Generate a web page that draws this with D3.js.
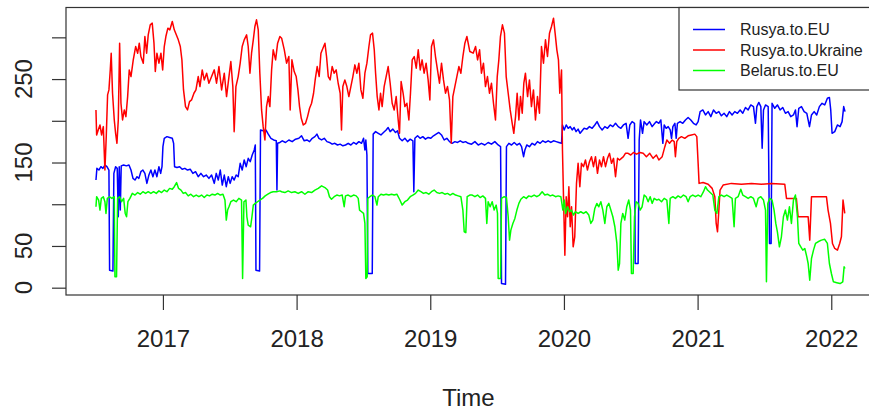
<!DOCTYPE html>
<html>
<head>
<meta charset="utf-8">
<script src="https://cdn.jsdelivr.net/npm/d3@7"></script>
<style>
  body { margin: 0; background: #fff; }
  svg { display: block; font-family: "Liberation Sans", Arial, sans-serif; }
</style>
</head>
<body>
<div class="chart"></div>
<script>
(function() {
  'use strict';

  // series: [decimal year, value]
  var seriesNames = ["Rusya.to.EU", "Rusya.to.Ukraine", "Belarus.to.EU"];

  var ruEu = [[2016.499,129],[2016.506,143],[2016.521,141],[2016.536,145],[2016.551,143],[2016.566,147],[2016.581,145],[2016.596,141],[2016.601,21],[2016.626,20],[2016.633,137],[2016.646,145],[2016.658,143],[2016.666,85],[2016.673,145],[2016.681,93],[2016.688,146],[2016.706,147],[2016.726,146],[2016.746,147],[2016.761,141],[2016.776,131],[2016.791,129],[2016.806,133],[2016.820,131],[2016.835,139],[2016.850,141],[2016.865,137],[2016.880,125],[2016.895,135],[2016.910,141],[2016.925,133],[2016.940,141],[2016.955,133],[2016.970,145],[2016.983,137],[2016.993,145],[2017.000,169],[2017.010,179],[2017.030,181],[2017.050,180],[2017.070,179],[2017.080,173],[2017.087,145],[2017.105,144],[2017.125,145],[2017.144,142],[2017.164,143],[2017.184,141],[2017.204,142],[2017.224,137],[2017.244,139],[2017.264,133],[2017.284,137],[2017.304,133],[2017.324,135],[2017.344,131],[2017.364,135],[2017.384,125],[2017.399,137],[2017.414,129],[2017.429,141],[2017.444,123],[2017.459,135],[2017.474,121],[2017.489,133],[2017.503,125],[2017.518,133],[2017.533,129],[2017.548,135],[2017.563,133],[2017.578,149],[2017.593,141],[2017.608,153],[2017.623,145],[2017.638,155],[2017.653,151],[2017.668,159],[2017.683,165],[2017.691,171],[2017.696,21],[2017.723,20],[2017.730,189],[2017.750,188],[2017.770,189],[2017.788,184],[2017.808,179],[2017.828,177],[2017.848,176],[2017.853,117],[2017.858,173],[2017.875,174],
    [2017.893,176],[2017.917,174],[2017.942,177],[2017.967,175],[2017.992,178],[2018.017,179],[2018.037,182],[2018.057,176],[2018.077,177],[2018.097,175],[2018.117,179],[2018.137,181],[2018.152,184],[2018.167,179],[2018.187,177],[2018.207,179],[2018.227,175],[2018.246,174],[2018.266,172],[2018.286,173],[2018.306,171],[2018.326,172],[2018.346,170],[2018.366,171],[2018.386,173],[2018.406,171],[2018.426,174],[2018.446,172],[2018.466,175],[2018.486,173],[2018.501,179],[2018.511,165],[2018.518,177],[2018.526,159],[2018.533,17],[2018.566,17],[2018.573,184],[2018.591,187],[2018.611,185],[2018.631,183],[2018.650,186],[2018.670,189],[2018.685,192],[2018.700,187],[2018.720,190],[2018.740,186],[2018.755,188],[2018.770,179],[2018.790,176],[2018.810,179],[2018.830,175],[2018.850,178],[2018.870,176],[2018.877,115],[2018.885,179],[2018.905,182],[2018.924,179],[2018.944,181],[2018.964,178],[2018.984,180],[2019.004,179],[2019.024,182],[2019.044,184],[2019.064,186],[2019.084,183],[2019.104,177],[2019.124,179],[2019.144,175],[2019.164,173],[2019.184,175],[2019.204,174],[2019.224,176],[2019.244,174],[2019.264,175],[2019.284,173],
    [2019.309,172],[2019.334,175],[2019.359,171],[2019.383,173],[2019.408,171],[2019.433,174],[2019.458,172],[2019.483,175],[2019.508,171],[2019.526,169],[2019.533,5],[2019.563,4],[2019.570,169],[2019.588,173],[2019.608,171],[2019.628,174],[2019.648,171],[2019.668,173],[2019.683,169],[2019.698,157],[2019.708,165],[2019.722,171],[2019.742,169],[2019.762,173],[2019.782,171],[2019.802,175],[2019.822,173],[2019.842,176],[2019.862,174],[2019.882,176],[2019.902,174],[2019.922,176],[2019.942,175],[2019.962,174],[2019.982,173],[2019.989,195],[2020.002,189],[2020.017,195],[2020.032,191],[2020.047,193],[2020.062,189],[2020.076,192],[2020.091,187],[2020.106,190],[2020.121,185],[2020.136,188],[2020.151,191],[2020.171,190],[2020.191,193],[2020.211,191],[2020.231,195],[2020.248,199],[2020.266,193],[2020.286,189],[2020.306,193],[2020.326,191],[2020.346,195],[2020.366,193],[2020.386,197],[2020.406,193],[2020.426,191],[2020.445,195],[2020.465,197],[2020.480,179],[2020.493,195],[2020.510,199],[2020.528,197],[2020.533,29],[2020.555,29],[2020.563,177],[2020.573,201],[2020.588,185],[2020.600,199],[2020.620,195],[2020.640,199],[2020.660,193],[2020.680,197],
    [2020.692,199],[2020.710,197],[2020.725,201],[2020.740,173],[2020.750,195],[2020.765,191],[2020.780,193],[2020.795,189],[2020.805,179],[2020.815,193],[2020.830,197],[2020.840,179],[2020.849,197],[2020.869,199],[2020.889,197],[2020.909,201],[2020.929,204],[2020.949,201],[2020.969,197],[2020.989,195],[2021.004,199],[2021.019,211],[2021.039,213],[2021.059,207],[2021.079,211],[2021.099,205],[2021.119,213],[2021.139,209],[2021.159,211],[2021.178,206],[2021.198,209],[2021.218,205],[2021.238,211],[2021.258,207],[2021.278,211],[2021.298,209],[2021.318,213],[2021.338,209],[2021.358,216],[2021.378,213],[2021.398,219],[2021.418,217],[2021.433,197],[2021.443,217],[2021.458,222],[2021.473,217],[2021.483,167],[2021.493,213],[2021.508,219],[2021.528,217],[2021.538,53],[2021.550,53],[2021.557,221],[2021.577,215],[2021.597,219],[2021.617,213],[2021.637,216],[2021.657,209],[2021.677,211],[2021.697,205],[2021.717,207],[2021.732,213],[2021.744,193],[2021.757,215],[2021.777,217],[2021.797,211],[2021.817,209],[2021.837,193],[2021.852,207],[2021.872,211],[2021.891,207],[2021.911,217],[2021.931,221],[2021.951,219],[2021.971,227],[2021.986,228],[2021.996,213],[2022.006,185],[2022.026,187],[2022.046,195],[2022.066,193],[2022.081,199],[2022.093,217],[2022.103,211]];

  var ruUa = [[2016.499,213],[2016.504,183],[2016.516,189],[2016.529,195],[2016.541,183],[2016.554,193],[2016.566,141],[2016.576,181],[2016.586,231],[2016.596,237],[2016.606,261],[2016.613,281],[2016.623,233],[2016.636,201],[2016.646,185],[2016.656,173],[2016.666,201],[2016.676,293],[2016.686,221],[2016.698,201],[2016.711,213],[2016.723,205],[2016.736,229],[2016.748,261],[2016.761,253],[2016.778,273],[2016.796,289],[2016.811,281],[2016.823,293],[2016.835,277],[2016.853,269],[2016.865,301],[2016.878,281],[2016.890,303],[2016.905,315],[2016.920,317],[2016.933,293],[2016.943,259],[2016.955,281],[2016.970,269],[2016.985,281],[2016.998,261],[2017.010,289],[2017.022,301],[2017.037,311],[2017.052,309],[2017.070,319],[2017.085,309],[2017.100,303],[2017.115,297],[2017.130,289],[2017.142,273],[2017.154,237],[2017.169,217],[2017.184,213],[2017.199,223],[2017.214,225],[2017.232,233],[2017.247,237],[2017.264,253],[2017.277,241],[2017.294,261],[2017.309,249],[2017.327,257],[2017.344,245],[2017.364,253],[2017.384,261],[2017.401,245],[2017.419,265],[2017.439,237],[2017.459,257],[2017.476,229],[2017.494,253],[2017.508,271],[2017.523,241],[2017.533,187],[2017.546,241],[2017.563,253],[2017.578,269],[2017.593,289],[2017.608,297],[2017.626,303],[2017.638,289],[2017.651,257],[2017.663,281],[2017.676,297],[2017.688,313],[2017.700,321],[2017.713,309],[2017.725,257],[2017.738,213],[2017.750,193],[2017.763,177],[2017.775,217],[2017.788,229],[2017.800,217],[2017.813,261],[2017.825,285],[2017.843,273],[2017.858,293],[2017.875,301],
    [2017.888,299],[2017.908,285],[2017.925,269],[2017.942,277],[2017.952,213],[2017.965,273],[2017.982,259],[2017.997,253],[2018.010,237],[2018.022,217],[2018.035,203],[2018.050,195],[2018.067,197],[2018.082,205],[2018.097,215],[2018.112,221],[2018.127,233],[2018.139,249],[2018.154,265],[2018.169,253],[2018.182,281],[2018.197,287],[2018.212,293],[2018.224,277],[2018.237,253],[2018.251,249],[2018.266,265],[2018.281,257],[2018.296,261],[2018.311,245],[2018.326,233],[2018.336,189],[2018.346,241],[2018.361,249],[2018.376,241],[2018.391,229],[2018.406,241],[2018.421,253],[2018.436,267],[2018.451,257],[2018.466,269],[2018.481,237],[2018.496,227],[2018.511,257],[2018.526,269],[2018.541,289],[2018.553,303],[2018.568,305],[2018.581,285],[2018.591,257],[2018.603,229],[2018.616,213],[2018.628,233],[2018.640,217],[2018.655,241],[2018.670,253],[2018.685,265],[2018.700,245],[2018.715,221],[2018.730,213],[2018.745,229],[2018.760,201],[2018.770,185],[2018.782,247],[2018.797,233],[2018.810,217],[2018.825,221],[2018.840,201],[2018.852,233],[2018.865,273],[2018.880,277],[2018.895,263],[2018.910,285],[2018.925,261],[2018.939,273],[2018.954,257],[2018.969,269],[2018.984,249],[2018.997,225],[2019.009,289],[2019.024,297],[2019.039,277],[2019.054,261],[2019.069,245],[2019.084,269],[2019.099,249],[2019.114,233],[2019.129,241],[2019.144,225],[2019.157,173],[2019.169,229],[2019.184,241],[2019.199,253],[2019.214,265],[2019.229,257],[2019.244,277],[2019.259,293],[2019.274,301],
    [2019.296,283],[2019.321,281],[2019.339,289],[2019.354,273],[2019.369,285],[2019.383,257],[2019.398,269],[2019.413,241],[2019.428,253],[2019.443,233],[2019.458,245],[2019.473,221],[2019.488,201],[2019.501,253],[2019.513,273],[2019.525,301],[2019.540,315],[2019.555,305],[2019.568,253],[2019.583,233],[2019.598,213],[2019.613,197],[2019.625,185],[2019.638,205],[2019.650,233],[2019.663,201],[2019.675,229],[2019.688,209],[2019.700,245],[2019.712,257],[2019.728,229],[2019.742,249],[2019.757,217],[2019.772,237],[2019.787,201],[2019.802,229],[2019.817,209],[2019.832,289],[2019.847,269],[2019.862,297],[2019.877,277],[2019.892,305],[2019.907,313],[2019.922,323],[2019.934,305],[2019.947,285],[2019.959,273],[2019.969,233],[2019.982,261],[2019.989,165],[2019.999,93],[2020.007,39],[2020.017,109],[2020.027,85],[2020.037,121],[2020.047,73],[2020.057,97],[2020.069,49],[2020.081,61],[2020.094,125],[2020.106,149],[2020.119,121],[2020.131,149],[2020.146,145],[2020.161,153],[2020.176,141],[2020.191,151],[2020.206,157],[2020.221,145],[2020.236,157],[2020.251,137],[2020.266,153],[2020.281,145],[2020.296,157],[2020.311,145],[2020.326,155],[2020.341,161],[2020.356,149],[2020.371,155],[2020.386,133],[2020.401,155],[2020.416,153],[2020.430,155],[2020.445,157],[2020.460,161],[2020.480,161],[2020.500,159],[2020.520,162],[2020.543,160],[2020.568,162],[2020.593,161],[2020.617,157],[2020.642,161],[2020.667,155],[2020.692,159],
    [2020.710,153],[2020.735,157],[2020.755,169],[2020.770,177],[2020.790,173],[2020.810,177],[2020.825,175],[2020.834,157],[2020.844,175],[2020.859,179],[2020.879,181],[2020.904,179],[2020.929,182],[2020.954,183],[2020.979,184],[2020.994,181],[2021.004,149],[2021.011,125],[2021.041,126],[2021.079,124],[2021.109,119],[2021.129,109],[2021.139,77],[2021.149,67],[2021.159,93],[2021.168,117],[2021.191,123],[2021.253,125],[2021.328,124],[2021.403,125],[2021.478,124],[2021.552,125],[2021.652,124],[2021.665,107],[2021.702,107],[2021.739,107],[2021.752,85],[2021.789,85],[2021.827,85],[2021.839,57],[2021.852,109],[2021.901,109],[2021.964,109],[2021.976,93],[2021.994,77],[2022.009,53],[2022.026,47],[2022.046,45],[2022.063,53],[2022.076,61],[2022.088,105],[2022.101,89]];

  var byEu = [[2016.499,97],[2016.504,109],[2016.519,105],[2016.529,93],[2016.539,107],[2016.554,109],[2016.566,103],[2016.574,89],[2016.584,107],[2016.601,109],[2016.618,107],[2016.636,109],[2016.641,13],[2016.653,13],[2016.661,107],[2016.676,109],[2016.691,103],[2016.706,107],[2016.718,89],[2016.728,85],[2016.738,103],[2016.753,107],[2016.771,113],[2016.791,111],[2016.811,114],[2016.830,112],[2016.850,115],[2016.870,113],[2016.890,115],[2016.910,113],[2016.930,115],[2016.950,113],[2016.970,116],[2016.990,114],[2017.010,117],[2017.030,115],[2017.050,119],[2017.070,118],[2017.085,121],[2017.102,126],[2017.117,119],[2017.135,117],[2017.152,113],[2017.169,114],[2017.189,110],[2017.209,112],[2017.229,109],[2017.249,111],[2017.269,109],[2017.289,111],[2017.309,108],[2017.329,111],[2017.349,110],[2017.369,112],[2017.389,111],[2017.409,113],[2017.429,111],[2017.449,112],[2017.464,105],[2017.474,81],[2017.484,93],[2017.494,97],[2017.508,103],[2017.528,105],[2017.548,103],[2017.568,107],[2017.588,105],[2017.596,11],[2017.606,103],[2017.621,105],[2017.628,85],[2017.638,75],[2017.656,73],[2017.666,85],[2017.676,99],[2017.691,101],[2017.708,103],[2017.725,105],[2017.745,107],[2017.765,110],[2017.785,112],[2017.805,114],[2017.825,115],[2017.850,115],[2017.875,116],
    [2017.888,115],[2017.912,114],[2017.937,116],[2017.962,114],[2017.987,115],[2018.012,113],[2018.037,115],[2018.062,112],[2018.087,115],[2018.112,114],[2018.137,117],[2018.162,119],[2018.187,122],[2018.212,120],[2018.232,117],[2018.246,109],[2018.261,106],[2018.281,109],[2018.301,111],[2018.321,110],[2018.341,111],[2018.356,97],[2018.366,110],[2018.386,111],[2018.406,109],[2018.426,111],[2018.446,110],[2018.461,107],[2018.471,93],[2018.486,91],[2018.501,89],[2018.511,77],[2018.518,11],[2018.528,13],[2018.533,107],[2018.548,109],[2018.566,111],[2018.586,109],[2018.601,99],[2018.611,109],[2018.631,112],[2018.650,111],[2018.670,112],[2018.690,111],[2018.710,112],[2018.730,111],[2018.750,112],[2018.770,106],[2018.790,99],[2018.810,103],[2018.830,105],[2018.850,109],[2018.870,111],[2018.890,113],[2018.910,117],[2018.930,115],[2018.949,113],[2018.969,114],[2018.989,112],[2019.009,115],[2019.029,117],[2019.049,114],[2019.069,113],[2019.089,114],[2019.109,112],[2019.129,113],[2019.149,111],[2019.169,113],[2019.189,111],[2019.209,110],[2019.229,109],[2019.244,93],[2019.254,67],[2019.266,66],[2019.276,109],[2019.296,111],
    [2019.314,111],[2019.334,109],[2019.354,111],[2019.373,108],[2019.393,110],[2019.413,107],[2019.423,77],[2019.433,103],[2019.448,97],[2019.463,103],[2019.478,93],[2019.493,99],[2019.503,89],[2019.508,11],[2019.526,11],[2019.533,107],[2019.553,109],[2019.570,108],[2019.583,85],[2019.593,57],[2019.603,69],[2019.618,77],[2019.633,83],[2019.648,93],[2019.663,101],[2019.678,106],[2019.698,109],[2019.718,107],[2019.737,110],[2019.757,109],[2019.777,111],[2019.797,109],[2019.817,111],[2019.837,115],[2019.857,111],[2019.877,112],[2019.897,110],[2019.917,111],[2019.937,109],[2019.957,110],[2019.977,109],[2019.992,93],[2020.002,105],[2020.012,89],[2020.027,97],[2020.042,91],[2020.057,93],[2020.071,87],[2020.086,91],[2020.106,89],[2020.126,91],[2020.146,89],[2020.166,91],[2020.186,87],[2020.201,77],[2020.216,81],[2020.231,95],[2020.246,101],[2020.261,97],[2020.276,103],[2020.291,93],[2020.306,77],[2020.321,97],[2020.336,101],[2020.351,93],[2020.366,85],[2020.381,73],[2020.396,53],[2020.406,21],[2020.416,29],[2020.426,77],[2020.440,89],[2020.455,81],[2020.470,97],[2020.485,105],[2020.498,93],[2020.505,17],[2020.518,17],[2020.528,85],[2020.540,103],[2020.555,101],[2020.570,93],[2020.585,97],[2020.600,111],[2020.615,109],[2020.630,103],[2020.645,109],[2020.660,101],[2020.675,107],[2020.695,105],
    [2020.710,106],[2020.730,103],[2020.750,107],[2020.770,105],[2020.785,77],[2020.795,107],[2020.815,109],[2020.834,107],[2020.854,110],[2020.874,108],[2020.894,111],[2020.914,109],[2020.929,103],[2020.944,109],[2020.964,111],[2020.984,109],[2021.004,111],[2021.024,109],[2021.044,115],[2021.059,121],[2021.074,117],[2021.094,114],[2021.114,111],[2021.129,93],[2021.144,89],[2021.159,109],[2021.178,111],[2021.198,109],[2021.218,111],[2021.238,109],[2021.258,107],[2021.273,73],[2021.283,107],[2021.303,109],[2021.323,118],[2021.338,111],[2021.358,109],[2021.378,107],[2021.398,109],[2021.418,107],[2021.438,97],[2021.453,107],[2021.473,109],[2021.493,105],[2021.508,93],[2021.515,7],[2021.525,101],[2021.540,107],[2021.557,105],[2021.572,93],[2021.585,77],[2021.597,67],[2021.612,49],[2021.627,61],[2021.642,85],[2021.657,93],[2021.672,81],[2021.687,97],[2021.702,77],[2021.717,105],[2021.732,111],[2021.747,85],[2021.757,53],[2021.772,49],[2021.787,45],[2021.802,47],[2021.817,37],[2021.827,29],[2021.839,9],[2021.852,35],[2021.867,45],[2021.882,53],[2021.901,55],[2021.926,57],[2021.951,58],[2021.971,53],[2021.986,29],[2022.001,17],[2022.016,7],[2022.041,6],[2022.066,5],[2022.086,7],[2022.096,25],[2022.103,23]];

  var xTicks = [2017, 2018, 2019, 2020, 2021, 2022];
  var yTicks = [0, 50, 100, 150, 200, 250, 300];
  var yLabelled = [0, 50, 150, 250]; // R drops the labels that would collide
  var xTitle = "Time";

  var colors = ["#0000ff", "#ff0000", "#00ff00"];
  var allSeries = [ruEu, ruUa, byEu];

  var width = 869, height = 412;
  var left = 66, right = 875, top = 7.5, bottom = 295;

  var svg = d3.select(".chart").append("svg")
    .attr("width", width)
    .attr("height", height);

  // R style 4% padding on both axes
  var all = d3.merge(allSeries);
  var xExt = d3.extent(all, function(d) { return d[0]; });
  var yExt = d3.extent(all, function(d) { return d[1]; });
  var xPad = (xExt[1] - xExt[0]) * 0.04, yPad = (yExt[1] - yExt[0]) * 0.04;

  var x = d3.scaleLinear().domain([xExt[0] - xPad, xExt[1] + xPad]).range([left, right]);
  var y = d3.scaleLinear().domain([yExt[0] - yPad, yExt[1] + yPad]).range([bottom, top]);

  var line = d3.line()
    .x(function(d) { return x(d[0]); })
    .y(function(d) { return y(d[1]); });

  svg.selectAll(".series")
    .data(allSeries)
    .enter().append("path")
    .attr("class", "series")
    .attr("d", line)
    .attr("fill", "none")
    .attr("stroke", function(d, i) { return colors[i]; })
    .attr("stroke-width", 1.5)
    .attr("stroke-linejoin", "round");

  // plot box
  svg.append("rect")
    .attr("x", left).attr("y", top)
    .attr("width", right - left).attr("height", bottom - top)
    .attr("fill", "none").attr("stroke", "#333").attr("stroke-width", 1.2);

  // x axis
  var xAxis = svg.append("g").attr("transform", "translate(0," + bottom + ")")
    .call(d3.axisBottom(x).tickValues(xTicks).tickFormat(d3.format("d")).tickSize(15).tickPadding(20));
  xAxis.select(".domain").remove();
  xAxis.selectAll("line").attr("stroke", "#333").attr("stroke-width", 1.2);
  xAxis.selectAll("text").attr("font-size", 24).attr("fill", "#222")
    .attr("font-family", "Liberation Sans, Arial, sans-serif");

  // y axis, labels turned like R's las = 0
  var yAxis = svg.append("g").attr("transform", "translate(" + left + ",0)")
    .call(d3.axisLeft(y).tickValues(yTicks).tickSize(14).tickFormat(""));
  yAxis.select(".domain").remove();
  yAxis.selectAll("line").attr("stroke", "#333").attr("stroke-width", 1.2);

  svg.selectAll(".ylab")
    .data(yLabelled)
    .enter().append("text")
    .attr("class", "ylab")
    .attr("transform", function(d) { return "translate(32," + y(d) + ") rotate(-90)"; })
    .attr("text-anchor", "middle")
    .attr("font-size", 24)
    .attr("fill", "#222")
    .text(function(d) { return d; });

  svg.append("text")
    .attr("x", (left + right) / 2 - 2)
    .attr("y", 406)
    .attr("text-anchor", "middle")
    .attr("font-size", 24)
    .attr("fill", "#222")
    .text(xTitle);

  // legend, top right
  var legend = svg.append("g").attr("transform", "translate(679," + top + ")");
  legend.append("rect")
    .attr("width", right - 679).attr("height", 82.5)
    .attr("fill", "#fff").attr("stroke", "#333").attr("stroke-width", 1.2);

  var item = legend.selectAll(".item")
    .data(seriesNames)
    .enter().append("g")
    .attr("class", "item")
    .attr("transform", function(d, i) { return "translate(0," + (22 + i * 20.5) + ")"; });

  item.append("line")
    .attr("x1", 14).attr("x2", 46)
    .attr("stroke", function(d, i) { return colors[i]; })
    .attr("stroke-width", 1.5);

  item.append("text")
    .attr("x", 61)
    .attr("dy", "0.35em")
    .attr("font-size", 16)
    .attr("fill", "#222")
    .text(function(d) { return d; });
})();
</script>
</body>
</html>
